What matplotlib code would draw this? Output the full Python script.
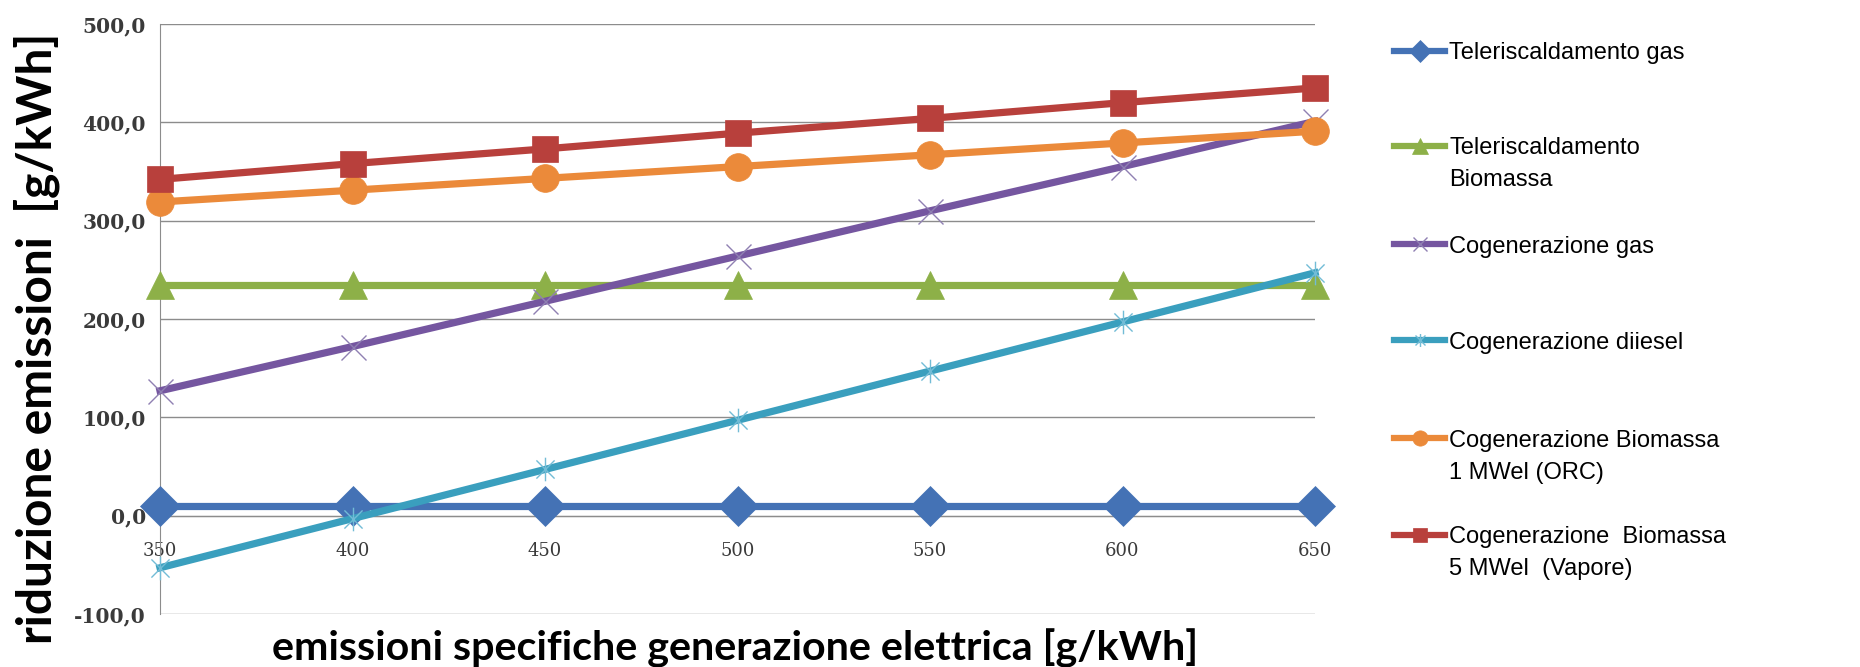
import matplotlib
matplotlib.use("Agg")
import matplotlib.pyplot as plt
from matplotlib.lines import Line2D
from matplotlib.path import Path
from matplotlib.ticker import FuncFormatter

# emissioni specifiche generazione elettrica [g/kWh]
emissioni_el = [350, 400, 450, 500, 550, 600, 650]

# riduzione emissioni [g/kWh] per tecnologia
tele_gas = [10, 10, 10, 10, 10, 10, 10]
tele_biomassa = [235, 235, 235, 235, 235, 235, 235]
cogen_gas = [127, 172, 218, 264, 310, 355, 401]
cogen_diesel = [-53, -3, 47, 97, 147, 197, 247]
cogen_bio_orc = [319, 331, 343, 355, 367, 379, 391]
cogen_bio_vapore = [342, 358, 373, 389, 404, 420, 435]

labels = [
    "Teleriscaldamento gas",
    "Teleriscaldamento\nBiomassa",
    "Cogenerazione gas",
    "Cogenerazione diiesel",
    "Cogenerazione Biomassa\n1 MWel (ORC)",
    "Cogenerazione  Biomassa\n5 MWel  (Vapore)",
]

W, H = 1860, 667

# asterisco stile Excel: croce + barra verticale
star = Path([(-1, -1), (1, 1), (-1, 1), (1, -1), (0, -1.3), (0, 1.3)],
            [Path.MOVETO, Path.LINETO, Path.MOVETO, Path.LINETO, Path.MOVETO, Path.LINETO])

series = [
    (tele_gas, '#4472B5', 'D', 20, '#4472B5'),
    (tele_biomassa, '#8DB048', '^', 20, '#8DB048'),
    (cogen_gas, '#7556A0', 'x', 18, '#8F80B2'),
    (cogen_diesel, '#3A9FBE', star, 17, '#72BCD6'),
    (cogen_bio_orc, '#EB8A3A', 'o', 20, '#EB8A3A'),
    (cogen_bio_vapore, '#B8403C', 's', 19, '#B8403C'),
]

fig = plt.figure(figsize=(W / 100, H / 100), dpi=100)
ax = fig.add_axes([160 / W, 1 - 614 / H, 1155 / W, 590 / H])

for values, color, marker, ms, mec in series:
    thin = marker == 'x' or isinstance(marker, Path)
    ax.plot(emissioni_el, values, color=color, lw=5.2,
            marker=marker, markersize=ms,
            markeredgecolor=mec, markerfacecolor=color,
            markeredgewidth=1.0 if thin else 0.5,
            clip_on=False, zorder=3)

ax.set_xlim(350, 650)
ax.set_ylim(-100, 500)
ax.set_yticks(range(-100, 501, 100))
ax.set_xticks(emissioni_el)
ax.yaxis.set_major_formatter(FuncFormatter(lambda v, p: f"{v:.1f}".replace('.', ',')))
ax.grid(axis='y', color='#8C8C8C', lw=1.0)
ax.set_axisbelow(True)

for side in ('top', 'right'):
    ax.spines[side].set_visible(False)
ax.spines['left'].set_color('#8C8C8C')
ax.spines['bottom'].set_position(('data', 0))
ax.spines['bottom'].set_color('#8C8C8C')

ax.tick_params(axis='both', length=0)
ax.tick_params(axis='y', pad=10)
ax.tick_params(axis='x', pad=19)
for lab in ax.get_yticklabels():
    lab.set_fontfamily('DejaVu Serif')
    lab.set_fontweight('bold')
    lab.set_fontsize(14.5)
    lab.set_color('#3A3A3A')
for lab in ax.get_xticklabels():
    lab.set_fontfamily('DejaVu Serif')
    lab.set_fontsize(13)
    lab.set_color('#3A3A3A')

fig.text(735 / W, 1 - 648 / H, "emissioni specifiche generazione elettrica [g/kWh]",
         ha='center', va='center', fontfamily='Lato', fontweight='bold', fontsize=29.7)
fig.text(37 / W, 1 - 338 / H, "riduzione emissioni  [g/kWh]", rotation=90,
         ha='center', va='center', fontfamily='Lato', fontweight='bold', fontsize=34.5)

# legenda: simbolo allineato alla prima riga del testo
leg_y = [51, 146, 244, 340, 438, 535]
for (values, color, marker, ms, mec), label, y in zip(series, labels, leg_y):
    yf = 1 - y / H
    thin = marker == 'x' or isinstance(marker, Path)
    fig.add_artist(Line2D([1394 / W, 1419.5 / W, 1445 / W], [yf, yf, yf],
                          transform=fig.transFigure, color=color, lw=4.5,
                          marker=marker, markevery=[1], markersize=ms * 0.55,
                          markeredgecolor=mec, markerfacecolor=color,
                          markeredgewidth=1.0 if thin else 0.5))
    for k, row in enumerate(label.split('\n')):
        fig.text(1449 / W, 1 - (y + 32 * k) / H, row, ha='left', va='center_baseline',
                 fontfamily='Liberation Sans', fontsize=17, color='#000000')

fig.savefig("out.png", dpi=100)
